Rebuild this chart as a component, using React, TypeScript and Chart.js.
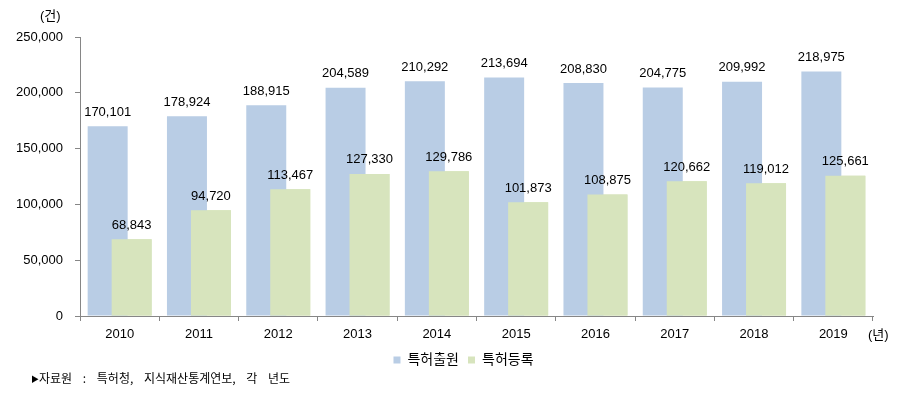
import React, { useEffect, useRef } from "react";
import { Chart, registerables } from "chart.js";

Chart.register(...registerables);

const years = ["2010", "2011", "2012", "2013", "2014", "2015", "2016", "2017", "2018", "2019"];
const applications = [170101, 178924, 188915, 204589, 210292, 213694, 208830, 204775, 209992, 218975];
const registrations = [68843, 94720, 113467, 127330, 129786, 101873, 108875, 120662, 119012, 125661];
const seriesNames = ["특허출원", "특허등록"];
const seriesColors = ["#B9CDE5", "#D7E4BD"];

const FONT = "'Liberation Sans', 'Noto Sans CJK KR', sans-serif";
const KFONT = "'Noto Sans CJK KR', 'Liberation Sans', sans-serif";
const fmt = (v: number) => v.toLocaleString("en-US");

const frontAndLabels = {
  id: "frontAndLabels",
  afterLayout(chart: any) {
    if (chart.legend) {
      chart.legend.left += 27;
      chart.legend.right += 27;
    }
  },
  afterDatasetsDraw(chart: any) {
    const ctx = chart.ctx;
    // draw the second series on top of the first (overlapping bars)
    const front = chart.getDatasetMeta(1);
    front.data.forEach((el: any) => el.draw(ctx));
    ctx.save();
    ctx.font = `13px ${FONT}`;
    ctx.fillStyle = "#000";
    ctx.textAlign = "center";
    ctx.textBaseline = "middle";
    chart.data.datasets.forEach((ds: any, i: number) => {
      const meta = chart.getDatasetMeta(i);
      meta.data.forEach((el: any, j: number) => {
        ctx.fillText(fmt(ds.data[j]), el.x, el.y - 14);
      });
    });
    ctx.restore();
  },
};

export default function App() {
  const ref = useRef<HTMLCanvasElement | null>(null);
  useEffect(() => {
    document.body.style.margin = "0";
    if (!ref.current) return;
    const chart = new Chart(ref.current, {
      type: "bar",
      data: {
        labels: years,
        datasets: [
          {
            label: seriesNames[0],
            data: applications,
            backgroundColor: seriesColors[0],
            categoryPercentage: 0.605,
            barPercentage: 1.667,
          },
          {
            label: seriesNames[1],
            data: registrations,
            backgroundColor: seriesColors[1],
            categoryPercentage: 0.605,
            barPercentage: 1.667,
          },
        ],
      },
      options: {
        responsive: false,
        animation: false,
        layout: { padding: { top: 37, right: 37, bottom: 23, left: 0 } },
        plugins: {
          legend: {
            position: "bottom",
            labels: {
              boxWidth: 7,
              boxHeight: 7,
              padding: 9,
              color: "#000",
              font: { family: FONT, size: 14 },
            },
          },
          tooltip: { enabled: false },
        },
        scales: {
          x: {
            grid: { drawOnChartArea: false, tickLength: 5, color: "#868686", offset: true },
            border: { color: "#868686" },
            ticks: { color: "#000", padding: 6, font: { family: FONT, size: 13 } },
            afterFit: (s: any) => {
              s.height = 28;
            },
          },
          y: {
            min: 0,
            max: 250000,
            grid: { drawOnChartArea: false, tickLength: 5, color: "#868686" },
            border: { color: "#868686" },
            ticks: {
              stepSize: 50000,
              color: "#000",
              padding: 12,
              font: { family: FONT, size: 13 },
              callback: (v: any) => fmt(Number(v)),
            },
            afterFit: (s: any) => {
              s.width = 80;
            },
          },
        },
      },
      plugins: [frontAndLabels],
    });
    return () => chart.destroy();
  }, []);

  const textStyle: React.CSSProperties = {
    position: "absolute",
    fontFamily: FONT,
    fontSize: 13,
    color: "#000",
    lineHeight: "16px",
    whiteSpace: "nowrap",
  };

  return (
    <div style={{ position: "relative", width: 910, height: 400 }}>
      <canvas ref={ref} width={910} height={400} />
      <div style={{ ...textStyle, left: 40, top: 8 }}>(건)</div>
      <div style={{ ...textStyle, left: 868, top: 327 }}>(년)</div>
      <div
        style={{
          ...textStyle,
          fontFamily: KFONT,
          fontSize: 12,
          wordSpacing: 8,
          left: 31,
          top: 370,
        }}
      >
        <span style={{ fontSize: 8, verticalAlign: "1px" }}>▶</span>자료원 : 특허청, 지식재산통계연보, 각 년도
      </div>
    </div>
  );
}
